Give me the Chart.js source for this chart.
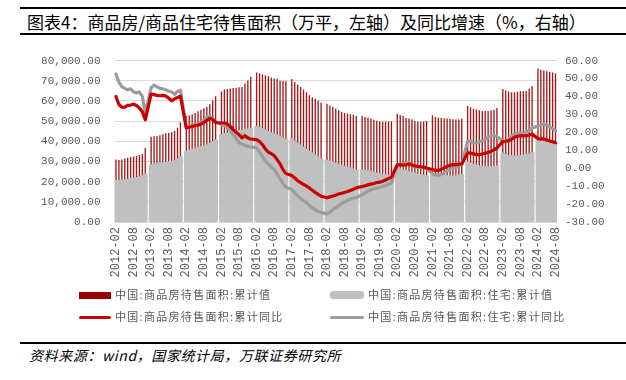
<!DOCTYPE html>
<html>
<head>
<meta charset="utf-8">
<script src="https://cdn.jsdelivr.net/npm/chart.js@4.4.1/dist/chart.umd.min.js"></script>
<style>
  html, body { margin: 0; padding: 0; background: #fff; }
  #page { position: relative; width: 626px; height: 380px; overflow: hidden; font-family: "Noto Sans CJK SC", sans-serif; }
  .rule { position: absolute; left: 20px; right: 0; height: 2px; background: #000; }
  #title { position: absolute; left: 27px; top: 9px; font-size: 17px; color: #000; white-space: nowrap; }
  #chart { position: absolute; left: 0; top: 40px; }
  #legend { position: absolute; left: 0; top: 285px; width: 626px; }
  .item { position: absolute; height: 20px; font-size: 11px; letter-spacing: 1.3px; color: #595959; white-space: nowrap; }
  .item .mark { position: absolute; left: 0; }
  .item .txt { position: absolute; top: 1px; }
  #source { position: absolute; left: 29px; top: 345px; font-size: 14px; letter-spacing: 0.6px; font-style: italic; color: #000; white-space: nowrap; }
</style>
</head>
<body>
<div id="page">
  <div class="rule" style="top:7px"></div>
  <div id="title">图表4：商品房/商品住宅待售面积（万平，左轴）及同比增速（%，右轴）</div>
  <div class="rule" style="top:33px"></div>
  <canvas id="chart" width="626" height="250"></canvas>
  <div id="legend"></div>
  <div class="rule" style="top:342px"></div>
  <div id="source">资料来源：wind，国家统计局，万联证券研究所</div>
</div>
<script>
// months 2012-02 .. 2024-08, January has no data (null)
const years = [2012, 2013, 2014, 2015, 2016, 2017, 2018, 2019, 2020, 2021, 2022, 2023, 2024];
const monthNames = ['01', '02', '03', '04', '05', '06', '07', '08', '09', '10', '11', '12'];
const labels = [];
years.forEach(y => monthNames.forEach(m => {
    const k = y + '-' + m;
    if (k >= '2012-02' && k <= '2024-08') labels.push(k);
}));

// 商品房待售面积 累计值 (万平)
const salesArea = [
    30800, 30600, 30800, 31300, 31700, 32000, 32300, 32600, 33000, 33600, 36460,
    null, 42100, 42300, 42500, 42800, 43300, 43800, 44100, 44300, 44900, 46600, 49300,
    null, 52400, 52800, 53200, 53900, 54700, 55500, 56200, 57000, 58200, 60000, 62200,
    null, 64500, 65500, 65800, 66000, 66200, 66400, 66600, 66700, 68500, 70000, 71850,
    null, 73900, 73600, 73100, 72600, 72200, 71500, 71000, 70800, 69800, 69700, 69540,
    null, 70700, 69200, 68000, 66800, 65500, 64200, 62700, 61700, 60900, 60000, 58900,
    null, 58500, 57600, 56900, 56000, 55200, 54400, 53900, 53500, 53300, 53000, 52400,
    null, 52400, 51900, 51600, 51100, 50500, 50000, 49700, 49500, 49500, 49600, 49820,
    null, 53500, 52900, 52400, 51400, 51100, 50700, 49900, 49700, 49400, 49600, 49850,
    null, 52800, 51900, 51600, 51400, 51300, 51100, 50900, 50800, 50700, 50600, 51000,
    null, 57300, 56700, 56000, 55600, 55200, 54900, 54900, 54800, 55200, 55500, 56370,
    null, 65800, 65000, 64500, 64200, 64200, 64400, 64700, 64700, 64900, 65900, 67300,
    null, 75900, 75300, 74900, 74500, 74200, 73900, 73400
];

// 住宅待售面积 累计值 (万平)
const resArea = [
    20500, 20600, 20800, 21000, 21300, 21600, 21900, 22200, 22500, 23000, 23900,
    null, 28300, 28700, 29000, 29200, 29400, 29700, 29900, 30100, 30400, 31300, 32400,
    null, 35200, 35600, 36000, 36400, 36900, 37400, 37900, 38400, 39000, 39800, 40700,
    null, 43400, 43800, 44100, 44400, 44700, 45000, 45300, 45600, 45900, 46200, 46500,
    null, 47500, 47000, 46400, 45700, 45000, 44300, 43600, 43000, 42300, 41600, 40900,
    null, 41300, 40200, 39200, 38200, 37200, 36200, 35200, 34300, 33300, 32300, 31200,
    null, 30700, 30200, 29700, 29200, 28700, 28200, 27700, 27200, 26800, 26400, 26000,
    null, 26000, 25600, 25200, 24900, 24600, 24300, 24000, 23800, 23600, 23400, 23200,
    null, 27000, 26500, 26000, 25500, 25000, 24600, 24200, 23800, 23500, 23200, 23000,
    null, 24500, 24000, 23700, 23400, 23200, 23000, 22900, 22800, 22900, 23200, 23500,
    null, 30000, 29300, 28700, 28300, 27900, 27600, 27400, 27300, 27400, 27600, 27900,
    null, 34100, 33500, 33100, 32900, 32800, 32900, 33100, 33300, 33500, 33800, 34400,
    null, 40400, 40100, 39800, 39500, 39200, 38900, 38500
];

// 商品房待售面积 累计同比 (%)
const salesYoy = [
    40.0, 35.5, 34.0, 34.0, 35.0, 35.2, 35.7, 35.0, 33.5, 31.5, 27.0,
    null, 41.4, 41.0, 40.6, 40.4, 40.6, 40.2, 39.1, 37.6, 38.7, 39.4, 40.2,
    null, 22.4, 22.8, 23.3, 23.7, 24.0, 24.6, 25.5, 26.7, 27.8, 27.2, 25.5,
    null, 25.2, 25.2, 24.6, 23.3, 21.5, 20.0, 18.7, 16.9, 18.1, 16.9, 16.3,
    null, 15.9, 14.8, 13.1, 10.7, 9.0, 8.1, 7.0, 4.8, 2.4, -0.8, -3.0,
    null, -4.1, -5.4, -7.0, -8.0, -9.0, -10.0, -11.0, -12.3, -13.5, -14.6, -15.6,
    null, -16.5, -16.0, -15.5, -15.0, -14.4, -14.0, -13.5, -13.0, -12.4, -11.8, -11.0,
    null, -10.2, -9.8, -9.3, -8.9, -8.5, -8.0, -7.8, -7.3, -6.6, -5.8, -5.0,
    null, 1.9, 1.8, 1.7, 1.9, 2.3, 1.8, 1.3, 1.0, 0.8, 0.6, 0.1,
    null, -0.7, -1.2, -1.2, -0.7, 0.2, 1.0, 1.6, 2.0, 2.0, 2.3, 2.4,
    null, 8.5, 8.4, 8.0, 7.6, 7.6, 7.9, 8.3, 8.7, 9.4, 10.2, 11.3,
    null, 14.8, 15.0, 15.3, 16.2, 17.2, 17.8, 18.0, 18.0, 18.0, 18.5, 19.0,
    null, 16.5, 16.3, 16.3, 15.8, 15.2, 14.7, 14.2
];

// 住宅待售面积 累计同比 (%)
const resYoy = [
    52.5, 48.0, 45.5, 44.5, 43.7, 44.3, 42.5, 42.0, 42.5, 40.0, 30.5,
    null, 45.0, 46.3, 45.4, 44.5, 44.2, 43.7, 42.9, 42.5, 41.2, 42.8, 43.5,
    null, 22.8, 23.2, 23.8, 24.4, 24.8, 25.5, 27.0, 28.5, 28.9, 27.5, 25.8,
    null, 24.3, 23.8, 22.6, 20.9, 19.0, 16.5, 14.2, 13.4, 12.8, 12.2, 11.9,
    null, 11.3, 9.0, 6.5, 4.0, 2.2, 0.7, -0.8, -3.2, -5.9, -8.5, -10.6,
    null, -11.9, -13.7, -15.4, -16.9, -18.1, -19.3, -20.7, -22.0, -23.3, -24.2, -24.8,
    null, -25.5, -24.5, -23.2, -22.0, -20.8, -19.8, -18.8, -18.0, -17.3, -16.8, -16.3,
    null, -14.8, -13.8, -12.8, -12.0, -11.3, -11.0, -10.6, -10.2, -9.6, -9.0, -8.3,
    null, 2.0, 2.0, 2.5, 2.8, 3.2, 1.5, 0.8, 0.5, 0.3, 0.1, -0.3,
    null, -3.0, -3.8, -3.9, -3.6, -2.6, -1.5, -0.5, 0.0, 0.5, 1.0, 2.0,
    null, 15.0, 15.0, 14.2, 14.0, 14.6, 15.4, 16.2, 17.2, 18.0, 18.3, 17.5,
    null, 15.0, 15.2, 16.2, 17.8, 19.0, 19.6, 19.6, 19.6, 20.0, 21.0, 22.5,
    null, 23.5, 24.2, 24.5, 24.0, 23.0, 22.0, 21.0
];

const tickColor = '#595959';
const axisFont = { family: 'Liberation Mono', size: 11 };

const chart = new Chart(document.getElementById('chart'), {
    type: 'bar',
    data: {
        labels: labels,
        datasets: [
            {
                type: 'line', label: '中国:商品房待售面积:累计同比', data: salesYoy, yAxisID: 'y1',
                borderColor: '#cc0000', backgroundColor: '#cc0000', borderWidth: 3.2,
                pointRadius: 0, spanGaps: true, borderJoinStyle: 'round', borderCapStyle: 'round', order: 0
            },
            {
                type: 'line', label: '中国:商品房待售面积:住宅:累计同比', data: resYoy, yAxisID: 'y1',
                borderColor: '#9c9c9c', backgroundColor: '#9c9c9c', borderWidth: 3.2,
                pointRadius: 0, spanGaps: true, borderJoinStyle: 'round', borderCapStyle: 'round', order: 1
            },
            {
                type: 'bar', label: '中国:商品房待售面积:住宅:累计值', data: resArea, yAxisID: 'y',
                backgroundColor: '#c0c0c0', barThickness: 4.1, grouped: false, order: 2
            },
            {
                type: 'bar', label: '中国:商品房待售面积:累计值', data: salesArea, yAxisID: 'y',
                backgroundColor: '#a31a1a', barThickness: 0.7, grouped: false, order: 3
            }
        ]
    },
    options: {
        responsive: false,
        animation: false,
        events: [],
        layout: { padding: { top: 18, left: 0, right: 0, bottom: 0 } },
        plugins: { legend: { display: false }, tooltip: { enabled: false } },
        scales: {
            x: {
                offset: true,
                grid: { display: false, drawTicks: false },
                border: { display: false },
                ticks: {
                    autoSkip: false, minRotation: 90, maxRotation: 90, padding: 5,
                    color: tickColor, font: { family: 'Liberation Mono', size: 12 },
                    callback: function (v) {
                        const l = this.getLabelForValue(v);
                        return (l.endsWith('-02') || l.endsWith('-08')) ? l : '';
                    }
                },
                afterFit: s => { s.height = 68; }
            },
            y: {
                position: 'left', min: 0, max: 80000,
                grid: { color: '#d9d9d9', drawTicks: false },
                border: { display: false },
                ticks: {
                    stepSize: 10000, padding: 14, color: tickColor, font: axisFont,
                    callback: v => v.toLocaleString('en-US', { minimumFractionDigits: 2, maximumFractionDigits: 2 })
                },
                afterFit: s => { s.width = 114.5; }
            },
            y1: {
                position: 'right', min: -30, max: 60,
                grid: { display: false, drawTicks: false },
                border: { display: false },
                ticks: {
                    stepSize: 10, padding: 8, color: tickColor, font: axisFont,
                    callback: v => v.toFixed(2)
                },
                afterFit: s => { s.width = 69; }
            }
        }
    }
});

// legend built from the datasets, laid out in two columns
const legendOrder = [3, 2, 0, 1];
const legendPos = [[79, 0], [330, 0], [79, 22], [330, 22]];
const legend = document.getElementById('legend');
legendOrder.forEach((di, k) => {
    const ds = chart.data.datasets[di];
    const item = document.createElement('div');
    item.className = 'item';
    item.style.left = legendPos[k][0] + 'px';
    item.style.top = legendPos[k][1] + 'px';
    const mark = document.createElement('div');
    mark.className = 'mark';
    const isLine = ds.type === 'line';
    const w = k % 2 === 0 ? 32 : 34;
    mark.style.width = w + 'px';
    mark.style.height = isLine ? '3px' : (k === 1 ? '8px' : '7px');
    mark.style.top = isLine ? '9px' : (k === 1 ? '6px' : '7px');
    mark.style.background = isLine ? ds.borderColor : (k === 0 ? '#990000' : ds.backgroundColor);
    mark.style.borderRadius = isLine ? '2px' : (k === 1 ? '3px' : '0');
    const txt = document.createElement('div');
    txt.className = 'txt';
    txt.style.left = (w + 4) + 'px';
    txt.textContent = ds.label;
    item.appendChild(mark);
    item.appendChild(txt);
    legend.appendChild(item);
});
</script>
</body>
</html>
